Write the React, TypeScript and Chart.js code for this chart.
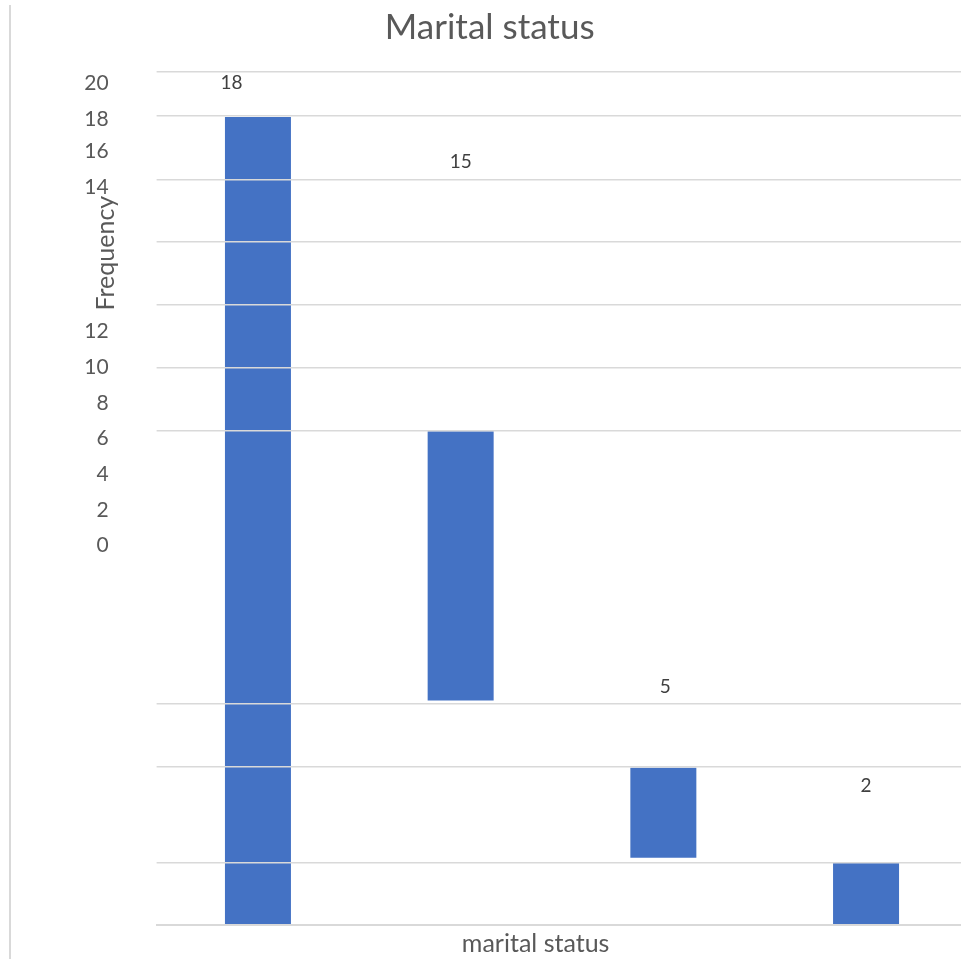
import React, { useEffect, useRef } from "react";
import { Chart, registerables } from "chart.js";

Chart.register(...registerables);

// ---- data ----
const categories = ["", "", "", ""];
const frequencies = [18, 15, 5, 2];
// floating bar segments, in units of the (hidden) value axis
const barSpans: [number, number][] = [
  [0, 18],
  [5, 11],
  [1.5, 3.5],
  [0, 1.38],
];
// where the value labels sit: level on the value axis, and position along the category axis
const labelLevels = [18.76, 17.0, 5.3, 3.11];
const labelColumns = [-0.13, 1, 2.01, 3];
// horizontal gridline levels on the value axis
const gridLevels = [0, 1.38, 3.52, 4.92, 11.01, 12.41, 13.81, 15.21, 16.61, 18.02, 19];
// left tick labels and their slots on the tick axis
const tickLabels = ["0", "2", "4", "6", "8", "10", "12", "14", "16", "18", "20"];
const tickSlots = [0, 1, 2, 3, 4, 5, 6, 10.06, 11.06, 11.96, 12.97];

const chartTitle = "Marital status";
const xTitle = "marital status";
const yTitle = "Frequency";

const FONT = "Lato";

function catPixel(chart: any, pos: number) {
  const x = chart.scales.x;
  const p0 = x.getPixelForValue(0);
  const p1 = x.getPixelForValue(1);
  return p0 + pos * (p1 - p0);
}

const decorPlugin = {
  id: "decor",
  beforeDraw(chart: any) {
    const ctx = chart.ctx;
    ctx.save();
    ctx.strokeStyle = "#d9d9d9";
    ctx.lineWidth = 2;
    ctx.beginPath();
    ctx.moveTo(10, 5);
    ctx.lineTo(10, chart.height);
    ctx.stroke();
    ctx.restore();
  },
  afterDraw(chart: any) {
    const ctx = chart.ctx;
    const yt = chart.scales.yt;
    const area = chart.chartArea;
    ctx.save();
    ctx.fillStyle = "#595959";
    ctx.font = `25px ${FONT}`;
    ctx.textAlign = "center";
    ctx.textBaseline = "alphabetic";
    ctx.fillText(xTitle, catPixel(chart, 1.37), area.bottom + 27);
    // rotated y title
    ctx.translate(yt.right - 51, yt.getPixelForValue(8.2));
    ctx.rotate(-Math.PI / 2);
    ctx.textBaseline = "middle";
    ctx.fillText(yTitle, 0, 0);
    ctx.restore();
  },
  afterDatasetsDraw(chart: any) {
    const ctx = chart.ctx;
    const y = chart.scales.y;
    ctx.save();
    ctx.fillStyle = "#404040";
    ctx.font = `19px ${FONT}`;
    ctx.textAlign = "center";
    ctx.textBaseline = "middle";
    frequencies.forEach((f, i) => {
      ctx.fillText(String(f), catPixel(chart, labelColumns[i]), y.getPixelForValue(labelLevels[i]));
    });
    ctx.restore();
  },
};

export default function App() {
  const ref = useRef<HTMLCanvasElement | null>(null);

  useEffect(() => {
    document.body.style.margin = "0";
    if (!ref.current) return;
    const chart = new Chart(ref.current, {
      type: "bar",
      data: {
        labels: categories,
        datasets: [
          {
            data: barSpans as any,
            backgroundColor: "#4472C4",
            borderWidth: 0,
            grouped: false,
            barPercentage: 0.3256,
            categoryPercentage: 1,
            xAxisID: "x",
            yAxisID: "y",
          } as any,
        ],
      },
      options: {
        responsive: false,
        animation: false,
        events: [],
        layout: { padding: { left: 12, right: 0.6, top: 0, bottom: 34 } },
        plugins: {
          legend: { display: false },
          tooltip: { enabled: false },
          title: {
            display: true,
            text: chartTitle,
            color: "#595959",
            font: { family: FONT, size: 35, weight: "normal" },
            padding: { top: 7, bottom: 23 },
          },
        },
        scales: {
          x: {
            type: "category",
            offset: true,
            position: "bottom",
            z: 1,
            grid: { display: false, drawTicks: false },
            border: { display: true, color: "#d9d9d9", width: 2, z: 1 },
            ticks: { display: false },
          },
          y: {
            type: "linear",
            position: "right",
            min: 0,
            max: 19,
            afterBuildTicks: (scale: any) => {
              scale.ticks = gridLevels.map((v) => ({ value: v }));
            },
            grid: { color: "#d9d9d9", lineWidth: 1.5, drawTicks: false, z: 1 },
            border: { display: false },
            ticks: { display: false },
          },
          yt: {
            type: "linear",
            position: "left",
            min: -10.64,
            max: 13.28,
            afterBuildTicks: (scale: any) => {
              scale.ticks = tickSlots.map((v) => ({ value: v }));
            },
            afterFit: (scale: any) => {
              scale.width = 144.6;
              scale.paddingTop = 0;
              scale.paddingBottom = 0;
            },
            grid: { display: false, drawTicks: false },
            border: { display: false },
            ticks: {
              autoSkip: false,
              padding: 48,
              color: "#595959",
              font: { family: FONT, size: 21 },
              callback: (_v: any, i: number) => tickLabels[i],
            },
          },
        },
      } as any,
      plugins: [decorPlugin],
    });
    return () => chart.destroy();
  }, []);

  return (
    <div style={{ width: 961, height: 959, overflow: "hidden", position: "relative" }}>
      <canvas ref={ref} width={968} height={959} style={{ display: "block", width: 968, height: 959 }} />
    </div>
  );
}
